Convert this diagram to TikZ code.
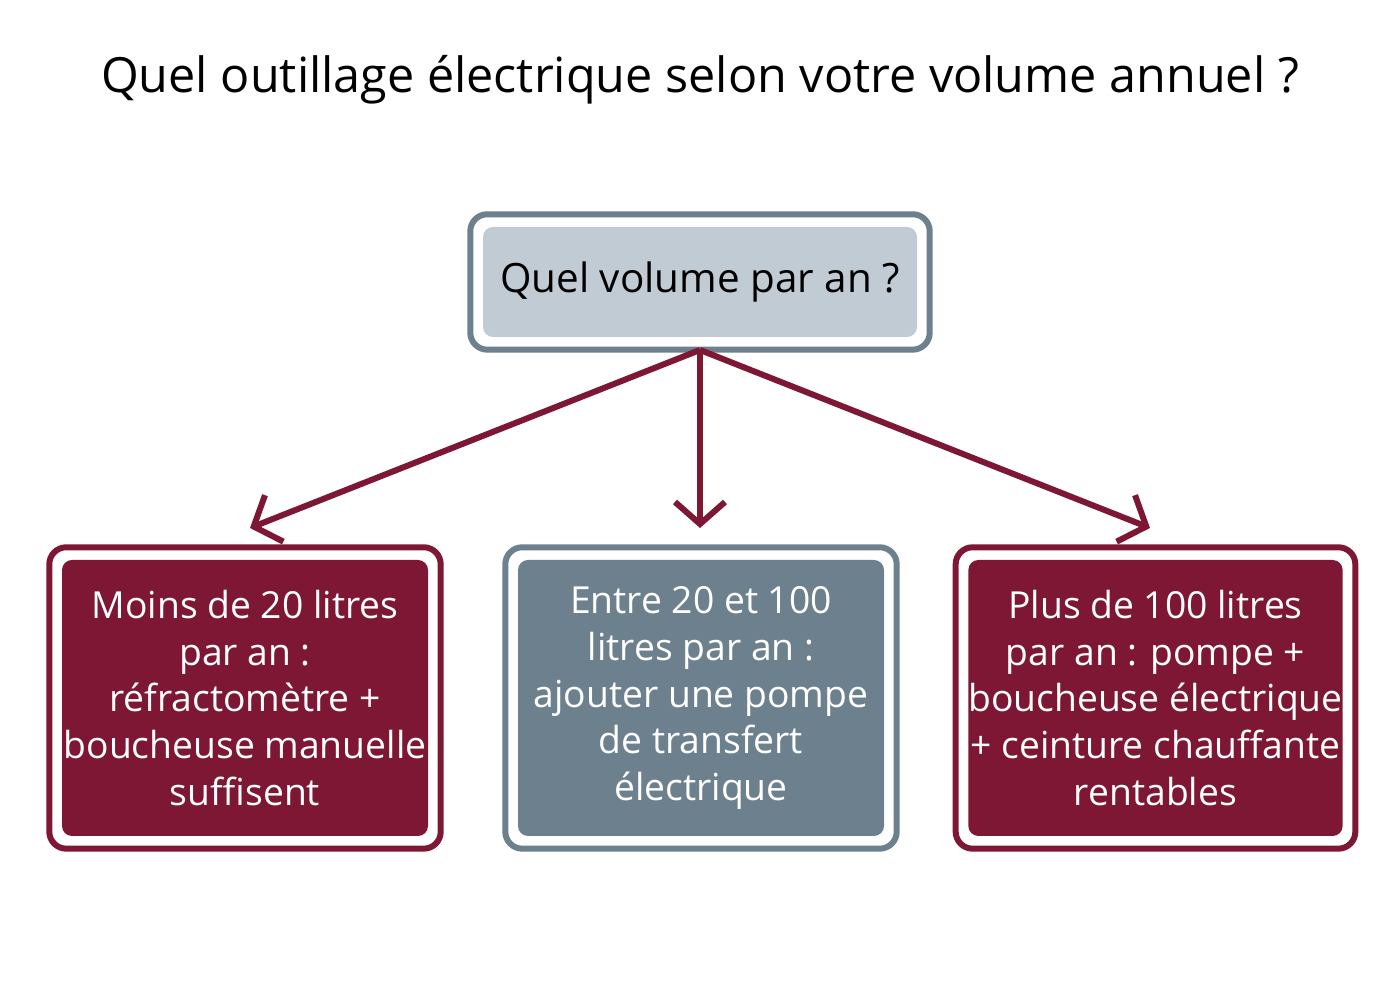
\documentclass[tikz,border=0pt]{standalone}
\usepackage{fontspec}
\setmainfont{Open Sans}
\usetikzlibrary{arrows.meta,positioning,fit}
\definecolor{wine}{HTML}{7D1734}
\definecolor{slate}{HTML}{6C808D}
\definecolor{mist}{HTML}{C0CBD3}
\tikzset{
  box/.style={rounded corners=0.1cm, minimum width=#1, align=center, inner sep=0pt},
  question/.style={box=4.34cm, fill=mist, minimum height=1.10cm, font=\fontsize{11.5}{14}\selectfont},
  choice/.style={box=3.66cm, minimum height=2.76cm, text=white, font=\fontsize{10.6}{13.3}\selectfont},
  frame/.style={draw=#1, line width=0.06cm, rounded corners=0.17cm, inner sep=0.12cm},
  link/.style={draw=wine, line width=0.06cm, -{Straight Barb[length=0.22cm,width=0.5cm,line width=0.06cm]}}
}
\begin{document}
\begin{tikzpicture}
  \useasboundingbox (0,0) rectangle (14,10);
  \node (title) at (7,9.2) {\fontsize{13.8}{16}\selectfont Quel outillage électrique selon votre volume annuel ?};

  \node (q) [question] at (7,7.18) {Quel volume par an ?};
  \node (qf) [frame=slate, fit=(q)] {};

  \node (low) [choice, fill=wine] at (2.45,3.02) {Moins de 20 litres\\par an :\\réfractomètre +\\boucheuse manuelle\\suffisent};
  \node (mid) [choice, fill=slate] at (7.01,3.02) {Entre 20 et 100\\litres par an :\\ajouter une pompe\\de transfert\\électrique};
  \node (high) [choice, fill=wine] at (11.555,3.02) {Plus de 100 litres\\par an : pompe +\\boucheuse électrique\\+ ceinture chauffante\\rentables};
  \node (lowf) [frame=wine, fit=(low)] {};
  \node (midf) [frame=slate, fit=(mid)] {};
  \node (highf) [frame=wine, fit=(high)] {};

  \coordinate (fork) at (7,6.5);
  \coordinate (toLow) at (2.5,4.72);
  \coordinate (toMid) at (7,4.72);
  \coordinate (toHigh) at (11.5,4.72);
  \path (fork) edge [link] (toLow) edge [link] (toMid) edge [link] (toHigh);
\end{tikzpicture}
\end{document}
